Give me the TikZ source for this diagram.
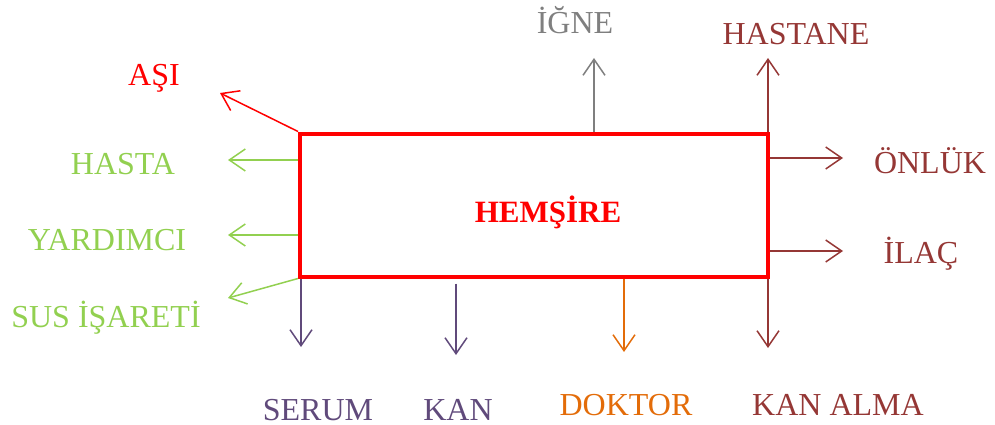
\documentclass[tikz,border=0pt]{standalone}
\usepackage{fontspec}
\setmainfont{Liberation Serif}
\usepackage{tikz}
\usetikzlibrary{arrows.meta, positioning, calc}
\definecolor{hRed}{HTML}{FF0000}
\definecolor{hGreen}{HTML}{92D050}
\definecolor{hPurple}{HTML}{604A7B}
\definecolor{hOrange}{HTML}{E36C09}
\definecolor{hBrown}{HTML}{953735}
\definecolor{hGray}{HTML}{7F7F7F}

\begin{document}
\begin{tikzpicture}[
    x=1pt, y=-1pt,
    font=\fontsize{32}{38}\selectfont,
    >={Straight Barb[length=16pt, width=22pt]},
    lbl/.style={anchor=base, text=#1, inner sep=0pt},
    arr/.style={->, draw=#1, line width=1.5pt},
    mainbox/.style={draw=hRed, line width=4pt, minimum width=468pt,
                    minimum height=143pt, inner sep=0pt},
  ]
    \useasboundingbox (0,0) rectangle (995,425);

    % Center box
    \node[mainbox] (hem) at (534,205) {};
    \node[text=hRed, font=\fontsize{31}{36}\selectfont\bfseries] (hemtxt) at (548,212) {HEMŞİRE};

    % Left side
    \node[lbl=hRed] (asi) at (154,86) {AŞI};
    \node[lbl=hGreen] (hasta) at (123,174) {HASTA};
    \node[lbl=hGreen] (yard) at (107,250) {YARDIMCI};
    \node[lbl=hGreen] (sus) at (106,327) {SUS İŞARETİ};

    % Bottom
    \node[lbl=hPurple] (serum) at (318,420) {SERUM};
    \node[lbl=hPurple] (kan) at (458,420) {KAN};
    \node[lbl=hOrange] (doktor) at (626,415) {DOKTOR};
    \node[lbl=hBrown] (kanalma) at (838,415) {KAN ALMA};

    % Top and right
    \node[lbl=hGray] (igne) at (575,34) {İĞNE};
    \node[lbl=hBrown] (hastane) at (796,45) {HASTANE};
    \node[lbl=hBrown] (onluk) at (930,173) {ÖNLÜK};
    \node[lbl=hBrown] (ilac) at (921,263) {İLAÇ};

    % arrow tips
    \coordinate (asiend) at (220,93);
    \coordinate (hastaend) at (228,160);
    \coordinate (yardend) at (228,235);
    \coordinate (susend) at (228,298);
    \coordinate (serumend) at (301,347);
    \coordinate (kanend) at (456,355);
    \coordinate (doktorend) at (624,352);
    \coordinate (kanalmaend) at (768,348);
    \coordinate (igneend) at (594,58);
    \coordinate (hastaneend) at (768,58);
    \coordinate (onlukend) at (843,158);
    \coordinate (ilacend) at (843,251);

    \draw[arr=hRed] (hem.north west) -- (asiend);
    \draw[arr=hGreen] (hem.west |- hastaend) -- (hastaend);
    \draw[arr=hGreen] (hem.west |- yardend) -- (yardend);
    \draw[arr=hGreen] (hem.south west) -- (susend);
    \draw[arr=hPurple] (hem.south -| serumend) -- (serumend);
    \draw[arr=hPurple, shorten <=5pt] (hem.south -| kanend) -- (kanend);
    \draw[arr=hOrange] (hem.south -| doktorend) -- (doktorend);
    \draw[arr=hBrown] (hem.south -| kanalmaend) -- (kanalmaend);
    \draw[arr=hGray] (hem.north -| igneend) -- (igneend);
    \draw[arr=hBrown] (hem.north -| hastaneend) -- (hastaneend);
    \draw[arr=hBrown] (hem.east |- onlukend) -- (onlukend);
    \draw[arr=hBrown] (hem.east |- ilacend) -- (ilacend);
\end{tikzpicture}
\end{document}
